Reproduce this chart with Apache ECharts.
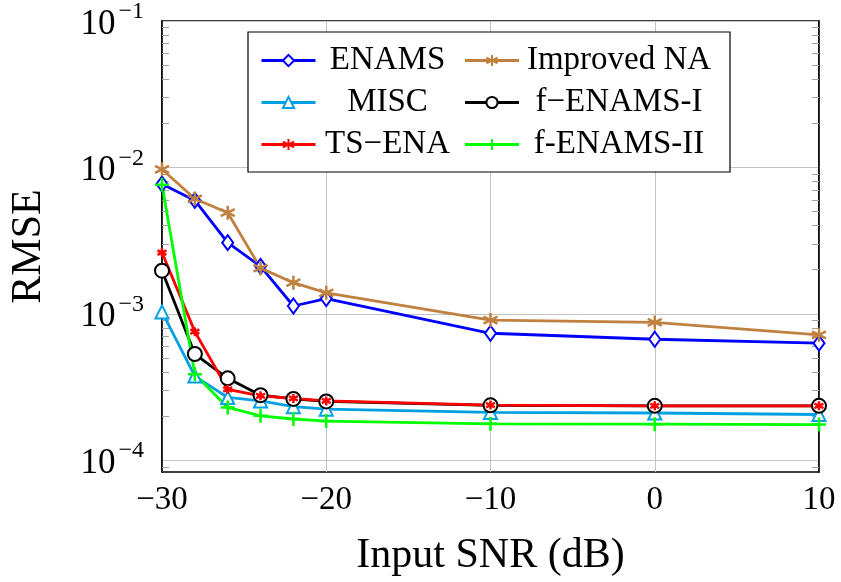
<!DOCTYPE html>
<html>
<head>
<meta charset="utf-8">
<script src="https://cdn.jsdelivr.net/npm/echarts@6/dist/echarts.min.js"></script>
<style>
  html, body { margin: 0; padding: 0; background: #fff; }
  #main { width: 841px; height: 582px; }
</style>
</head>
<body>
<div id="main"></div>
<script>
// 数据
var snr = [-30, -28, -26, -24, -22, -20, -10, 0, 10];
var enams      = [7.7e-3, 5.95e-3, 3.06e-3, 2.11e-3, 1.13e-3, 1.27e-3, 7.36e-4, 6.7e-4, 6.3e-4];
var improvedNA = [9.7e-3, 6.1e-3, 4.9e-3, 2.05e-3, 1.63e-3, 1.39e-3, 9.06e-4, 8.73e-4, 7.18e-4];
var misc       = [1.03e-3, 3.75e-4, 2.68e-4, 2.54e-4, 2.32e-4, 2.23e-4, 2.12e-4, 2.1e-4, 2.05e-4];
var fEnamsI    = [1.97e-3, 5.31e-4, 3.62e-4, 2.78e-4, 2.62e-4, 2.52e-4, 2.37e-4, 2.35e-4, 2.35e-4];
var tsEna      = [2.62e-3, 7.55e-4, 3.05e-4, 2.75e-4, 2.64e-4, 2.54e-4, 2.38e-4, 2.35e-4, 2.35e-4];
var fEnamsII   = [7.6e-3, 3.86e-4, 2.29e-4, 2.01e-4, 1.91e-4, 1.85e-4, 1.77e-4, 1.76e-4, 1.75e-4];

var majorTicks = [1e-4, 1e-3, 1e-2, 1e-1];
var minorTicks = [];
[1e-5, 1e-4, 1e-3, 1e-2].forEach(function (d) {
  for (var k = 2; k <= 9; k++) minorTicks.push(k * d);
});

var FONT = 'Liberation Serif';
var col1 = ['ENAMS', 'MISC', 'TS\u2212ENA'];

function pairs(ys) {
  return snr.map(function (x, i) { return [x, ys[i]]; });
}

var asterisk = 'path://M5,0L5,10M0.67,2.5L9.33,7.5M0.67,7.5L9.33,2.5';
var plus = 'path://M5,0L5,10M0,5L10,5';

function mk(name, color, ys, symbol, size) {
  return {
    name: name,
    type: 'line',
    data: pairs(ys),
    symbol: symbol,
    symbolSize: size,
    color: color,
    lineStyle: { color: color, width: 2.8 },
    itemStyle: { color: color, borderColor: color, borderWidth: 2.5 },
    emphasis: { disabled: true },
    animation: false
  };
}

// 次刻度轴（左右两侧）
function minorAxis(pos) {
  return {
    type: 'log', logBase: 10, min: 8.3e-5, max: 0.1, position: pos, offset: 0,
    axisLine: { show: true, lineStyle: { color: '#000', width: 1.5 } },
    axisLabel: { show: true, formatter: function () { return ''; } },
    splitLine: { show: false },
    axisTick: { show: true, inside: true, length: 7, customValues: minorTicks, lineStyle: { color: '#a0a0a0', width: 1 } }
  };
}

var myChart = echarts.init(document.getElementById('main'));

var option = {
  backgroundColor: '#fff',
  animation: false,
  grid: { left: 157, right: 22, top: 17, bottom: 110, show: true, borderColor: '#000', borderWidth: 1.5 },
  legend: {
    left: 248, top: 32, width: 470,
    padding: [12, 16, 11, 12],
    itemGap: 9,
    itemWidth: 54, itemHeight: 14,
    lineStyle: { width: 3 },
    borderColor: '#000', borderWidth: 1.2,
    backgroundColor: '#fff',
    formatter: function (name) {
      return (col1.indexOf(name) >= 0 ? '{a|' : '{b|') + name + '}';
    },
    textStyle: {
      fontFamily: FONT, fontSize: 33, color: '#000',
      rich: {
        a: { width: 134, align: 'center', fontFamily: FONT, fontSize: 33, lineHeight: 37 },
        b: { width: 190, align: 'center', fontFamily: FONT, fontSize: 33, lineHeight: 37 }
      }
    }
  },
  xAxis: {
    type: 'value', min: -30, max: 10, interval: 10,
    name: 'Input SNR (dB)', nameLocation: 'middle', nameGap: 63,
    nameTextStyle: { fontFamily: FONT, fontSize: 42, color: '#000' },
    axisLine: { show: false },
    axisTick: { show: false },
    splitLine: { lineStyle: { color: '#c4c4c4', width: 1 } },
    axisLabel: {
      margin: 12, color: '#000', fontFamily: FONT, fontSize: 33,
      formatter: function (v) { return v < 0 ? '\u2212' + Math.abs(v) : String(v); }
    }
  },
  yAxis: [
    {
      type: 'log', logBase: 10, min: 8.3e-5, max: 0.1,
      name: 'RMSE', nameLocation: 'middle', nameGap: 112,
      nameTextStyle: { fontFamily: FONT, fontSize: 42, color: '#000' },
      axisLine: { show: false },
      axisTick: { show: false, customValues: majorTicks },
      splitLine: { lineStyle: { color: '#c4c4c4', width: 1 } },
      axisLabel: {
        customValues: majorTicks, margin: 18,
        formatter: function (v) {
          var e = Math.round(Math.log10(v));
          return '{b|10}{s|' + (e < 0 ? '\u2212' : '') + Math.abs(e) + '}';
        },
        rich: {
          b: { fontFamily: FONT, fontSize: 35, color: '#000', lineHeight: 42, verticalAlign: 'bottom' },
          s: { fontFamily: FONT, fontSize: 24, color: '#000', lineHeight: 42, verticalAlign: 'top', padding: [0, 0, 0, 3] }
        }
      }
    },
    minorAxis('left'),
    minorAxis('right')
  ],
  series: [
    mk('ENAMS', '#0000ff', enams, 'emptyDiamond', [11, 15]),
    mk('Improved NA', '#bf8040', improvedNA, asterisk, 14),
    mk('MISC', '#00a0e3', misc, 'emptyTriangle', 13),
    mk('f\u2212ENAMS-I', '#000000', fEnamsI, 'emptyCircle', 14),
    mk('TS\u2212ENA', '#ff0000', tsEna, asterisk, 9),
    mk('f-ENAMS-II', '#00ff00', fEnamsII, plus, 14)
  ]
};

myChart.setOption(option);
</script>
</body>
</html>
